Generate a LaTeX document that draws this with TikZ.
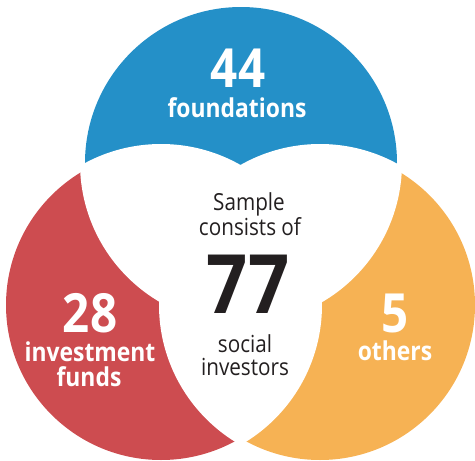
\documentclass[tikz,border=0pt]{standalone}
\usepackage{fontspec}
\usepackage{tikz}
\newfontfamily\vennfont{Open Sans}[FakeStretch=0.88]
\definecolor{fundblue}{HTML}{2490C8}
\definecolor{fundred}{HTML}{CD4C50}
\definecolor{fundorange}{HTML}{F6B254}
\definecolor{fundtext}{HTML}{231F20}

\begin{document}
\begin{tikzpicture}[x=1pt,y=-1pt,
    count/.style={font=\vennfont\bfseries\fontsize{54}{54}\selectfont, text=white, anchor=base, inner sep=0pt},
    label/.style={font=\vennfont\bfseries\fontsize{26}{26}\selectfont, text=white, anchor=base, inner sep=0pt},
    total/.style={font=\vennfont\fontsize{23.5}{23.5}\selectfont, text=fundtext, anchor=base, inner sep=0pt}]
    \def \rin {155pt}
    \def \rout {161pt} % white gap round the overlaps
    \useasboundingbox (0,0) rectangle (475,461);
    \coordinate (top) at (241,163);
    \coordinate (left) at (161,305);
    \coordinate (right) at (320,305);
    \fill[fundblue] (top) circle (156pt);
    \fill[fundred] (left) circle (\rin);
    \fill[fundorange] (right) circle (\rin);
    \foreach \a/\b in {top/left,top/right,left/right}
    {
      \begin{scope}
        \clip (\a) circle (\rout);
        \fill[white] (\b) circle (\rout);
      \end{scope}
    }
    % top set
    \node[count] (n44) at (238,87) {44};
    \node[label] (foundations) at (237,117) {foundations};
    % left set
    \node[count] (n28) at (90,332) {28};
    \node[label] (investment) at (90,361) {investment};
    \node[label] (funds) at (89,386) {funds};
    % right set
    \node[count] (n5) at (395,332) {5};
    \node[label] (others) at (395,360) {others};
    % centre
    \node[total] (sample) at (249,210) {Sample};
    \node[total] (consists) at (250,235) {consists of};
    \node[total, font=\vennfont\bfseries\fontsize{82}{82}\selectfont] (n77) at (248,313) {77};
    \node[total] (social) at (245,352) {social};
    \node[total] (investors) at (245,375) {investors};
\end{tikzpicture}
\end{document}
